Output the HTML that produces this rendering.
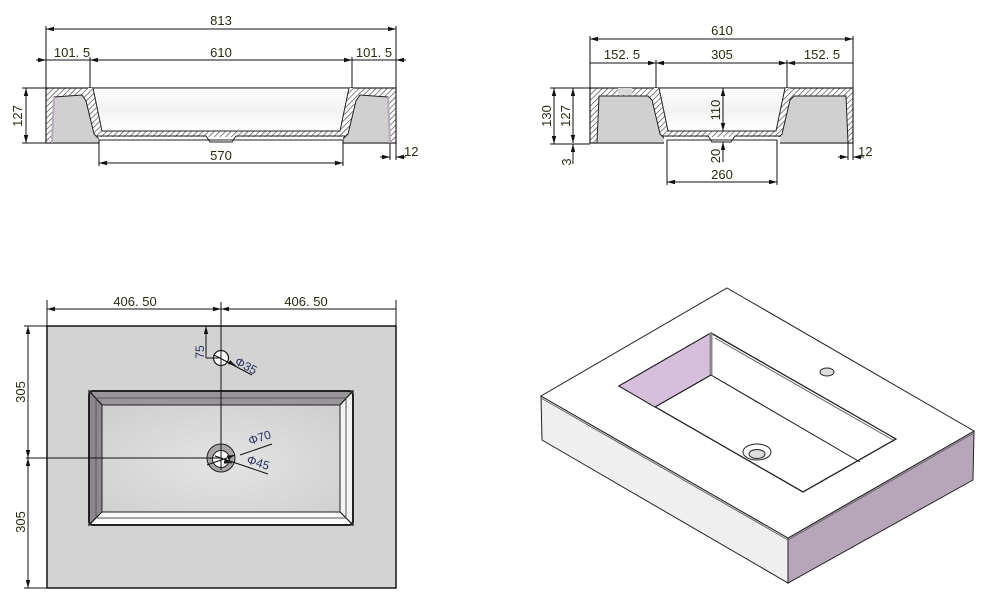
<!DOCTYPE html>
<html><head><meta charset="utf-8"><style>
html,body{margin:0;padding:0;background:#fff;}
svg{display:block;}
text{font-family:"Liberation Sans",sans-serif;font-size:13px;fill:#2b2b12;}
.b{fill:#27325e;font-size:12px;}
</style></head><body>
<svg width="991" height="611" viewBox="0 0 991 611" xmlns="http://www.w3.org/2000/svg">
<defs>
<pattern id="h" width="4" height="4" patternUnits="userSpaceOnUse" patternTransform="rotate(45)">
<rect width="4" height="4" fill="#fff"/><line x1="0" y1="0" x2="0" y2="4" stroke="#444" stroke-width="1.3"/></pattern>
<marker id="a" markerWidth="8" markerHeight="6" refX="8" refY="3" orient="auto-start-reverse" markerUnits="userSpaceOnUse">
<path d="M0,0.8 L8,3 L0,5.2z" fill="#111"/></marker>
<linearGradient id="g" x1="0" y1="0" x2="0" y2="1"><stop offset="0" stop-color="#fff"/><stop offset="0.5" stop-color="#f2f2f2"/><stop offset="1" stop-color="#fff"/></linearGradient>
<radialGradient id="bg" cx="0.5" cy="0.55" r="0.7"><stop offset="0" stop-color="#e4e4e4"/><stop offset="1" stop-color="#cfcfcf"/></radialGradient>
</defs>
<g stroke="#111" stroke-width="1" fill="none">

<!-- FRONT SECTION -->
<rect x="46" y="88" width="350" height="55" fill="url(#h)" stroke="#222" stroke-width="1.2"/>
<polygon points="52,143 54,97 82,95 86,101 94,134 100,140 342,140 348,134 356,101 360,95 388,97 390,143" fill="#d0d0d0" stroke="#222"/>
<polygon points="88,88 354,88 345,134 342,136 100,136 97,134" fill="url(#h)" stroke="none"/>
<polygon points="93,88 349,88 340,131 102,131" fill="url(#g)" stroke="#222"/>
<rect x="99" y="137" width="244" height="7" fill="#fff" stroke="none"/>
<path d="M97,136 H206 L210,142 H232 L236,136 H345" stroke="#222"/>
<line x1="99" y1="140" x2="343" y2="140" stroke="#222"/>
<line x1="52" y1="143" x2="54" y2="97" stroke="#b8a8c0" stroke-width="2"/>
<line x1="390" y1="143" x2="388" y2="97" stroke="#b8a8c0" stroke-width="2"/>
<line x1="46" y1="26" x2="46" y2="88"/><line x1="396" y1="26" x2="396" y2="88"/>
<line x1="46" y1="29" x2="396" y2="29" marker-start="url(#a)" marker-end="url(#a)"/>
<line x1="90" y1="57" x2="90" y2="88"/><line x1="352" y1="57" x2="352" y2="88"/>
<line x1="36" y1="60" x2="46" y2="60" marker-end="url(#a)"/>
<line x1="90" y1="60" x2="352" y2="60" marker-start="url(#a)" marker-end="url(#a)"/>
<line x1="406" y1="60" x2="396" y2="60" marker-end="url(#a)"/>
<line x1="46" y1="60" x2="90" y2="60"/><line x1="352" y1="60" x2="396" y2="60"/>
<line x1="22" y1="88" x2="46" y2="88"/><line x1="22" y1="143" x2="46" y2="143"/>
<line x1="26" y1="88" x2="26" y2="143" marker-start="url(#a)" marker-end="url(#a)"/>
<line x1="99" y1="140" x2="99" y2="166"/><line x1="343" y1="140" x2="343" y2="166"/>
<line x1="99" y1="163" x2="343" y2="163" marker-start="url(#a)" marker-end="url(#a)"/>
<line x1="390" y1="143" x2="390" y2="160"/><line x1="396" y1="143" x2="396" y2="160"/>
<line x1="380" y1="157" x2="390" y2="157" marker-end="url(#a)"/>
<line x1="406" y1="157" x2="396" y2="157" marker-end="url(#a)"/>

<!-- SIDE SECTION -->
<rect x="590" y="88" width="263" height="55" fill="url(#h)" stroke="#222" stroke-width="1.2"/>
<polygon points="597,143 599,96 648,96 652,100 660,134 666,140 776,140 782,134 790,100 794,96 846,96 848,143" fill="#d0d0d0" stroke="#222"/>
<rect x="618" y="88" width="14" height="7" fill="#d8d8d8" stroke="none"/>
<polygon points="654,88 790,88 781,134 777,136 667,136 662,134" fill="url(#h)" stroke="none"/>
<polygon points="659,88 785,88 776,131 668,131" fill="url(#g)" stroke="#222"/>
<rect x="664" y="137" width="116" height="7" fill="#fff" stroke="none"/>
<path d="M662,136 H708 L712,142 H731 L735,136 H781" stroke="#222"/>
<line x1="667" y1="140" x2="777" y2="140" stroke="#222"/>
<line x1="590" y1="36" x2="590" y2="88"/><line x1="853" y1="36" x2="853" y2="88"/>
<line x1="590" y1="39" x2="853" y2="39" marker-start="url(#a)" marker-end="url(#a)"/>
<line x1="656" y1="60" x2="656" y2="88"/><line x1="787" y1="60" x2="787" y2="88"/>
<line x1="590" y1="63" x2="656" y2="63" marker-end="url(#a)"/>
<line x1="656" y1="63" x2="787" y2="63" marker-start="url(#a)" marker-end="url(#a)"/>
<line x1="853" y1="63" x2="787" y2="63" marker-end="url(#a)"/>
<line x1="550" y1="88" x2="590" y2="88"/><line x1="550" y1="144" x2="590" y2="144"/>
<line x1="554" y1="88" x2="554" y2="144" marker-start="url(#a)" marker-end="url(#a)"/>
<line x1="573" y1="88" x2="573" y2="143" marker-start="url(#a)" marker-end="url(#a)"/>
<line x1="573" y1="164" x2="573" y2="144" marker-end="url(#a)"/>
<line x1="723" y1="88" x2="723" y2="131" marker-start="url(#a)" marker-end="url(#a)"/>
<line x1="723" y1="162" x2="723" y2="142" marker-end="url(#a)"/>
<line x1="667" y1="140" x2="667" y2="185"/><line x1="777" y1="140" x2="777" y2="185"/>
<line x1="667" y1="182" x2="777" y2="182" marker-start="url(#a)" marker-end="url(#a)"/>
<line x1="848" y1="143" x2="848" y2="160"/><line x1="853" y1="143" x2="853" y2="160"/>
<line x1="838" y1="157" x2="848" y2="157" marker-end="url(#a)"/>
<line x1="864" y1="157" x2="853" y2="157" marker-end="url(#a)"/>

<!-- TOP VIEW -->
<rect x="47" y="326" width="349" height="262" fill="#d3d3d3" stroke="#222" stroke-width="1.6"/>
<rect x="89" y="391" width="264" height="134" rx="4" fill="#eee" stroke="#222" stroke-width="2"/>
<polygon points="89,391 353,391 340,405 102,405" fill="#9a959a"/>
<polygon points="89,391 102,405 102,512 89,525" fill="#8e8790"/>
<polygon points="353,391 340,405 340,512 353,525" fill="#f4f4f4"/>
<polygon points="89,525 102,512 340,512 353,525" fill="#fafafa"/>
<rect x="89" y="391" width="264" height="134" rx="4" fill="none" stroke="#222" stroke-width="2"/>
<rect x="102" y="405" width="238" height="107" fill="url(#bg)" stroke="#222"/>
<line x1="96" y1="398" x2="346" y2="398" stroke="#555"/>
<line x1="96" y1="518" x2="346" y2="518" stroke="#555"/>
<line x1="96" y1="398" x2="96" y2="518" stroke="#555"/>
<line x1="346" y1="398" x2="346" y2="518" stroke="#555"/>
<circle cx="221" cy="458" r="14" fill="#a8a4a8" stroke="#222"/>
<circle cx="221" cy="459" r="8.5" fill="#fff" stroke="#222"/>
<circle cx="221" cy="358" r="7.5" fill="#fff" stroke="#222" stroke-width="1.3"/>
<line x1="221" y1="302" x2="221" y2="470"/>
<line x1="26" y1="458" x2="221" y2="458"/>
<line x1="47" y1="300" x2="47" y2="326"/><line x1="396" y1="300" x2="396" y2="326"/>
<line x1="47" y1="309" x2="221" y2="309" marker-start="url(#a)" marker-end="url(#a)"/>
<line x1="396" y1="309" x2="221" y2="309" marker-end="url(#a)"/>
<line x1="24" y1="326" x2="47" y2="326"/><line x1="24" y1="588" x2="47" y2="588"/>
<line x1="28" y1="326" x2="28" y2="458" marker-start="url(#a)" marker-end="url(#a)"/>
<line x1="28" y1="458" x2="28" y2="588" marker-start="url(#a)" marker-end="url(#a)"/>
<line x1="206" y1="326" x2="206" y2="358" marker-start="url(#a)"/>
<line x1="206" y1="358" x2="221" y2="358"/>
<line x1="214" y1="355" x2="252" y2="375"/>
<line x1="229" y1="362" x2="236" y2="366" marker-end="url(#a)"/>
<line x1="240" y1="455" x2="272" y2="444"/>
<line x1="207" y1="465" x2="235" y2="455" marker-end="url(#a)"/>
<line x1="215" y1="456" x2="268" y2="474"/>
<line x1="227" y1="462" x2="232" y2="463" marker-end="url(#a)"/>

<!-- ISO VIEW -->
<polygon points="541,396 788,538 788,583 542,440" fill="#efefef" stroke="#222"/>
<polygon points="788,538 974,431 973,480 788,583" fill="#b7a5ba" stroke="#222"/>
<polygon points="727,288 974,431 788,538 541,396" fill="#fff" stroke="#222"/>
<polygon points="711,333 896,439 803,492 619,386" fill="#fff" stroke="#222" stroke-width="1.3"/>
<polygon points="619,386 711,333 711,375 655,407" fill="#d6bfda" stroke="#222"/>
<line x1="711" y1="333" x2="711" y2="375" stroke="#888" stroke-width="3"/>
<line x1="711" y1="375" x2="860" y2="462"/>
<line x1="655" y1="407" x2="711" y2="375"/>
<line x1="715" y1="338" x2="893" y2="440" stroke="#666"/>
<ellipse cx="757" cy="452" rx="14" ry="8" fill="#fff" stroke="#222"/>
<ellipse cx="757" cy="454" rx="8" ry="4.5" fill="#ddd" stroke="#222"/>
<ellipse cx="827" cy="372" rx="7" ry="4" fill="#ddd" stroke="#222"/>
<line x1="541" y1="398" x2="788" y2="540" stroke="#666"/>
<line x1="788" y1="540" x2="974" y2="433" stroke="#666"/>
</g>

<text x="221" y="25" text-anchor="middle">813</text>
<text x="72" y="57" text-anchor="middle">101. 5</text>
<text x="221" y="57" text-anchor="middle">610</text>
<text x="374" y="57" text-anchor="middle">101. 5</text>
<text x="221" y="160" text-anchor="middle">570</text>
<text x="404" y="156">12</text>
<text transform="translate(22,116) rotate(-90)" text-anchor="middle">127</text>

<text x="722" y="35" text-anchor="middle">610</text>
<text x="622" y="59" text-anchor="middle">152. 5</text>
<text x="722" y="59" text-anchor="middle">305</text>
<text x="822" y="59" text-anchor="middle">152. 5</text>
<text x="722" y="179" text-anchor="middle">260</text>
<text x="858" y="156">12</text>
<text transform="translate(551,116) rotate(-90)" text-anchor="middle">130</text>
<text transform="translate(570,116) rotate(-90)" text-anchor="middle">127</text>
<text transform="translate(571,162) rotate(-90)" text-anchor="middle">3</text>
<text transform="translate(720,110) rotate(-90)" text-anchor="middle">110</text>
<text transform="translate(720,156) rotate(-90)" text-anchor="middle">20</text>

<text x="135" y="306" text-anchor="middle">406. 50</text>
<text x="306" y="306" text-anchor="middle">406. 50</text>
<text transform="translate(25,392) rotate(-90)" text-anchor="middle">305</text>
<text transform="translate(25,522) rotate(-90)" text-anchor="middle">305</text>
<text class="b" transform="translate(204,352) rotate(-90)" text-anchor="middle">75</text>
<text class="b" transform="translate(234,364) rotate(28)">Φ35</text>
<text class="b" transform="translate(250,445) rotate(-18)">Φ70</text>
<text class="b" transform="translate(246,463) rotate(18)">Φ45</text>
</svg>
</body></html>
